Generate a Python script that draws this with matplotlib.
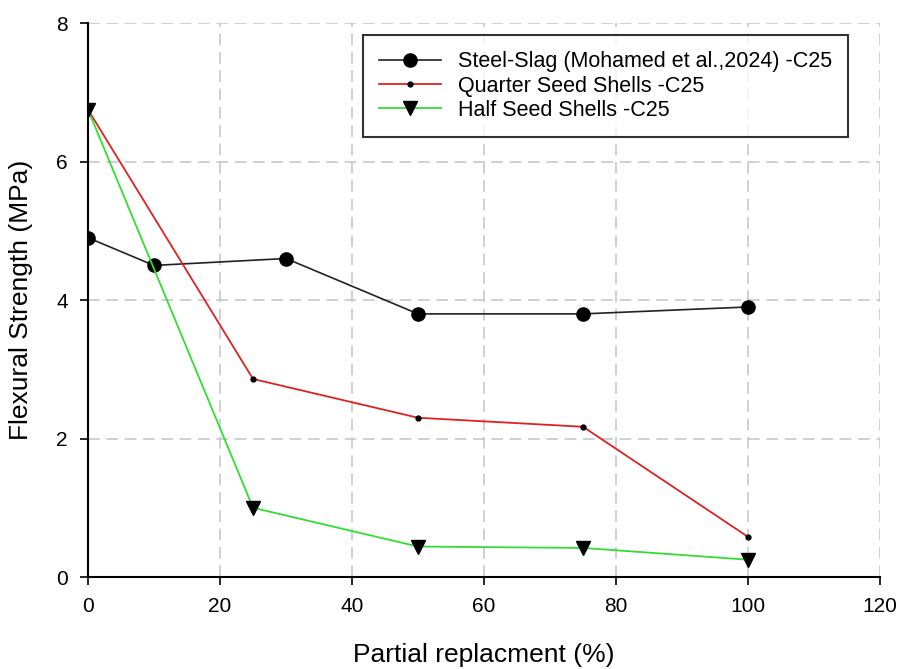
import matplotlib
matplotlib.use("Agg")
import matplotlib.pyplot as plt

plt.rcParams['font.family'] = ['Liberation Sans', 'DejaVu Sans']

slag_x = [0, 10, 30, 50, 75, 100]
slag_y = [4.9, 4.5, 4.6, 3.8, 3.8, 3.9]
quarter_x = [0, 25, 50, 75, 100]
quarter_y = [6.75, 2.86, 2.30, 2.17, 0.58]
half_x = [0, 25, 50, 75, 100]
half_y = [6.75, 1.0, 0.44, 0.42, 0.25]

labels = ["Steel-Slag (Mohamed et al.,2024) -C25",
          "Quarter Seed Shells -C25",
          "Half Seed Shells -C25"]

fig = plt.figure(figsize=(8.99, 6.69), dpi=100)
ax = fig.add_axes([0.0979, 0.1375, 0.881, 0.828])

ax.plot(slag_x, slag_y, color='#222222', lw=1.2, marker='o', ms=9.5,
        mfc='black', mec='black', label=labels[0], zorder=3)
ax.plot(quarter_x, quarter_y, color='#dd2222', lw=1.3, marker='o', ms=3.5,
        mfc='black', mec='black', label=labels[1], zorder=3)
ax.plot(half_x, half_y, color='#33dd33', lw=1.3, marker='v', ms=9.5,
        mfc='black', mec='black', label=labels[2], zorder=3)

ax.set_xlim(0, 120)
ax.set_ylim(0, 8)
ax.set_xticks([0, 20, 40, 60, 80, 100, 120])
ax.set_yticks([0, 2, 4, 6, 8])
ax.grid(True, color='#c8c8c8', ls=(0, (7, 4)), lw=1.2)
ax.set_axisbelow(True)
for s in ['top', 'right']:
    ax.spines[s].set_visible(False)
for s in ['left', 'bottom']:
    ax.spines[s].set_linewidth(1.5)
ax.tick_params(direction='out', length=5.5, width=1.2, labelsize=15)
ax.tick_params(axis='x', pad=9)
ax.tick_params(axis='y', pad=9)
ax.set_xlabel("Partial replacment (%)", fontsize=19, labelpad=19)
ax.set_ylabel("Flexural Strength (MPa)", fontsize=19, labelpad=17)

leg = ax.legend(loc='upper left', bbox_to_anchor=(0.347, 0.978), fontsize=15.5,
                frameon=True, fancybox=False, edgecolor='black',
                handlelength=2.9, handletextpad=0.75, borderpad=0.75,
                labelspacing=0.15, borderaxespad=0)
leg.get_frame().set_linewidth(1.5)

fig.savefig("out.png", dpi=100)
